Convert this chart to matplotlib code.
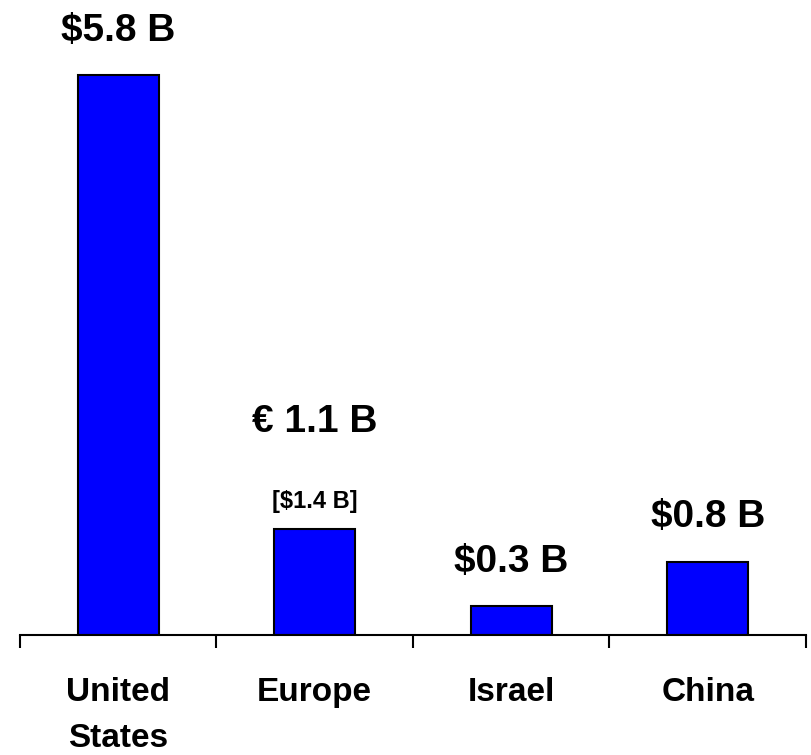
import matplotlib
matplotlib.use("Agg")
import matplotlib.pyplot as plt

# data
regions = ["United\nStates", "Europe", "Israel", "China"]
values = [5.8, 1.1, 0.3, 0.76]
main_labels = ["$5.8 B", "\u20ac 1.1 B", "$0.3 B", "$0.8 B"]

plt.rcParams['font.family'] = ['Liberation Sans Narrow', 'Liberation Sans', 'DejaVu Sans']
plt.rcParams['font.weight'] = 'bold'

fig = plt.figure(figsize=(8.12, 7.55), dpi=100)
ax = fig.add_axes([20 / 812, 120 / 755, 786 / 812, 579.3 / 755])

x = list(range(len(regions)))
bars = ax.bar(x, values, width=0.41, color='#0000FF', edgecolor='black', linewidth=1.5)

ax.set_xlim(-0.5, len(regions) - 0.5)
ax.set_ylim(0, 6.0)

for sp in ['top', 'right', 'left']:
    ax.spines[sp].set_visible(False)
ax.spines['bottom'].set_linewidth(1.5)
ax.set_yticks([])

# category boundary ticks, labels in between
ax.set_xticks([i - 0.5 for i in range(len(regions) + 1)])
ax.set_xticklabels([])
ax.tick_params(axis='x', direction='out', length=9.5, width=1.5)
ax.set_xticks(x, minor=True)
ax.set_xticklabels(regions, minor=True, fontsize=24, fontweight='bold', linespacing=1.62)
ax.tick_params(axis='x', which='minor', length=0, pad=30)

# value labels above bars
for i, (v, lab) in enumerate(zip(values, main_labels)):
    off = 32 if i != 1 else 77
    ax.annotate(lab, (i, v), xytext=(0, off), textcoords='offset points',
                ha='center', va='center', fontsize=28, fontweight='bold')

ax.annotate("[$1.4 B]", (1, values[1]), xytext=(0, 20), textcoords='offset points',
            ha='center', va='center', fontsize=17, fontweight='bold')

fig.savefig("out.png", dpi=100)
